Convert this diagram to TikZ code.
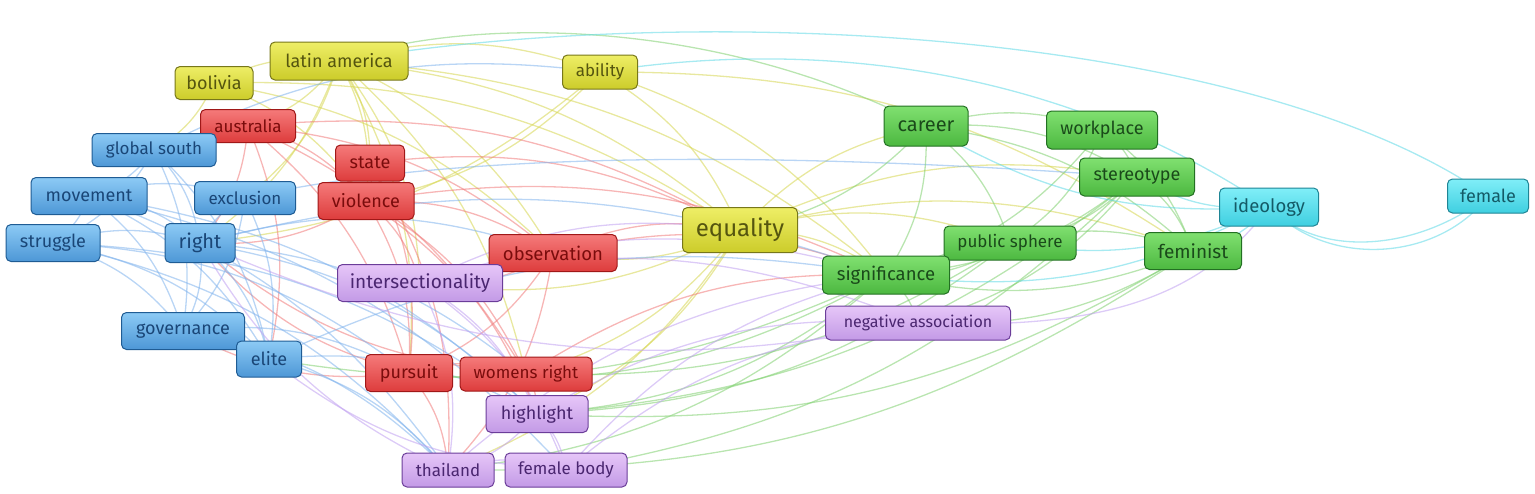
\documentclass[tikz,border=0pt]{standalone}
\usepackage{fontspec}
\setmainfont{Fira Sans}
\pgfdeclarelayer{bg}
\pgfsetlayers{bg,main}
\definecolor{bT}{HTML}{8CCAF5}\definecolor{bB}{HTML}{4D97D6}\definecolor{bD}{HTML}{1F5C94}\definecolor{bX}{HTML}{1A4677}\definecolor{bE}{HTML}{7FB2EC}
\definecolor{rT}{HTML}{F57A7A}\definecolor{rB}{HTML}{DD3C3C}\definecolor{rD}{HTML}{A01818}\definecolor{rX}{HTML}{7A0C0C}\definecolor{rE}{HTML}{F07A7A}
\definecolor{yT}{HTML}{EEEE66}\definecolor{yB}{HTML}{CCCC2A}\definecolor{yD}{HTML}{77771A}\definecolor{yX}{HTML}{55550F}\definecolor{yE}{HTML}{D6D650}
\definecolor{gT}{HTML}{80E070}\definecolor{gB}{HTML}{4CB840}\definecolor{gD}{HTML}{237023}\definecolor{gX}{HTML}{1A4A1A}\definecolor{gE}{HTML}{80D070}
\definecolor{cT}{HTML}{80EEF8}\definecolor{cB}{HTML}{3FCFE0}\definecolor{cD}{HTML}{1F8595}\definecolor{cX}{HTML}{145A66}\definecolor{cE}{HTML}{5ED8E6}
\definecolor{pT}{HTML}{E6C6F8}\definecolor{pB}{HTML}{C39AE6}\definecolor{pD}{HTML}{6B3D99}\definecolor{pX}{HTML}{4A2670}\definecolor{pE}{HTML}{C0A0F0}
\tikzset{
  kw/.style={rounded corners=5pt, line width=1pt, inner sep=0pt, font=\fontsize{#1}{#1}\selectfont},
  bn/.style={kw=#1, draw=bD, top color=bT, bottom color=bB, text=bX},
  rn/.style={kw=#1, draw=rD, top color=rT, bottom color=rB, text=rX},
  yn/.style={kw=#1, draw=yD, top color=yT, bottom color=yB, text=yX},
  gn/.style={kw=#1, draw=gD, top color=gT, bottom color=gB, text=gX},
  cn/.style={kw=#1, draw=cD, top color=cT, bottom color=cB, text=cX},
  pn/.style={kw=#1, draw=pD, top color=pT, bottom color=pB, text=pX},
  eg/.style={line width=1.3pt, draw opacity=0.55},
}
\newcommand{\kwnode}[8]{\node[#1=#2, minimum width=#3pt, minimum height=#4pt] (#5) at (#6,#7) {#8};}
\begin{document}
\begin{tikzpicture}[x=1pt,y=-1pt]
\useasboundingbox (0,0) rectangle (1535,493);
% yellow
\kwnode{yn}{18}{78}{33}{bolivia}{214}{83}{bolivia}
\kwnode{yn}{18}{138}{38}{latam}{339}{61}{latin america}
\kwnode{yn}{17}{75}{34}{ability}{600}{72}{ability}
\kwnode{yn}{24}{115}{45}{equality}{740}{230}{equality}
% red
\kwnode{rn}{17}{95}{33}{australia}{248}{126}{australia}
\kwnode{rn}{18}{69}{36}{state}{370}{163}{state}
\kwnode{rn}{18}{96}{37}{violence}{366}{201}{violence}
\kwnode{rn}{18.5}{128}{37}{observation}{553}{253}{observation}
\kwnode{rn}{18}{87}{37}{pursuit}{409}{373}{pursuit}
\kwnode{rn}{17}{132}{34}{womens}{526}{374}{womens right}
% blue
\kwnode{bn}{17}{124}{33}{gsouth}{154}{150}{global south}
\kwnode{bn}{18}{116}{37}{movement}{89}{196}{movement}
\kwnode{bn}{17}{101}{33}{exclusion}{245}{198}{exclusion}
\kwnode{bn}{18}{94}{37}{struggle}{53}{243}{struggle}
\kwnode{bn}{20}{70}{39}{right}{200}{243}{right}
\kwnode{bn}{18}{123}{37}{governance}{183}{331}{governance}
\kwnode{bn}{18}{65}{36}{elite}{269}{359}{elite}
% purple
\kwnode{pn}{19}{165}{37}{intersec}{420}{283}{intersectionality}
\kwnode{pn}{18}{102}{37}{highlight}{537}{414}{highlight}
\kwnode{pn}{17}{92}{34}{thailand}{448}{470}{thailand}
\kwnode{pn}{17}{122}{34}{fbody}{566}{470}{female body}
\kwnode{pn}{16}{185}{34}{negassoc}{918}{323}{negative association}
% green
\kwnode{gn}{20}{84}{40}{career}{926}{126}{career}
\kwnode{gn}{18}{111}{38}{workplace}{1102}{130}{workplace}
\kwnode{gn}{18}{115}{38}{stereotype}{1137}{177}{stereotype}
\kwnode{gn}{17}{132}{34}{psphere}{1010}{243}{public sphere}
\kwnode{gn}{19}{97}{37}{feminist}{1193}{251}{feminist}
\kwnode{gn}{18.5}{127}{38}{significance}{886}{275}{significance}
% cyan
\kwnode{cn}{18.5}{99}{38}{ideology}{1269}{207}{ideology}
\kwnode{cn}{18}{81}{34}{female}{1488}{196}{female}
\begin{pgfonlayer}{bg}
% yellow edges
\foreach \a/\b in {latam/equality,latam/ability,latam/violence,latam/observation,latam/significance,latam/intersec,latam/pursuit,latam/right,bolivia/latam,bolivia/gsouth,bolivia/equality,bolivia/violence,ability/equality,ability/significance,ability/feminist,ability/right,equality/thailand,equality/significance,equality/stereotype,equality/career,equality/observation,equality/intersec,equality/womens,equality/psphere,equality/feminist,latam/australia,latam/state,ability/violence,latam/exclusion,bolivia/observation,equality/highlight,latam/womens}
  \draw[eg, yE] (\a.center) to[bend left=17] (\b.center);
% red edges
\foreach \a/\b in {australia/observation,australia/equality,australia/violence,australia/pursuit,australia/elite,state/violence,state/equality,state/pursuit,violence/observation,violence/pursuit,violence/womens,violence/intersec,violence/significance,violence/highlight,observation/pursuit,observation/significance,observation/intersec,observation/thailand,pursuit/womens,pursuit/right,pursuit/governance,pursuit/thailand,womens/significance,womens/highlight,womens/right,australia/right,state/thailand,violence/right,australia/womens,observation/equality}
  \draw[eg, rE] (\a.center) to[bend left=17] (\b.center);
% blue edges
\foreach \a/\b in {gsouth/movement,gsouth/right,gsouth/struggle,gsouth/elite,movement/struggle,movement/right,movement/governance,movement/elite,movement/exclusion,movement/highlight,movement/thailand,struggle/right,struggle/governance,struggle/elite,struggle/highlight,struggle/thailand,right/exclusion,right/governance,right/elite,right/womens,right/highlight,right/observation,right/significance,exclusion/governance,exclusion/elite,governance/elite,governance/pursuit,governance/thailand,elite/highlight,elite/significance,elite/thailand,gsouth/ability,struggle/pursuit,movement/fbody,gsouth/governance}
  \draw[eg, bE] (\a.center) to[bend left=17] (\b.center);
\draw[eg, bE] (exclusion.center) .. controls (500,140) and (900,160) .. (stereotype.center);
% green edges
\foreach \a/\b in {career/workplace,career/stereotype,career/significance,career/feminist,career/psphere,career/equality,workplace/stereotype,workplace/feminist,workplace/significance,stereotype/significance,stereotype/psphere,stereotype/feminist,stereotype/negassoc,stereotype/highlight,psphere/significance,psphere/feminist,psphere/highlight,feminist/significance,feminist/negassoc,significance/highlight,significance/pursuit,significance/thailand,significance/elite,significance/negassoc,workplace/psphere,stereotype/fbody,feminist/highlight,psphere/womens,feminist/thailand}
  \draw[eg, gE] (\a.center) to[bend left=17] (\b.center);
\draw[eg, gE] (career.center) .. controls (700,10) and (450,20) .. (latam.center);
% cyan edges
\draw[eg, cE] (ideology.center) .. controls (1320,260) and (1420,250) .. (female.center);
\draw[eg, cE] (ideology.center) .. controls (1330,270) and (1440,260) .. (female.center);
\foreach \a/\b in {ideology/stereotype,ideology/significance,ideology/career,ideology/feminist,ideology/psphere}
  \draw[eg, cE] (\a.center) to[bend left=17] (\b.center);
\draw[eg, cE] (ideology.center) .. controls (1050,60) and (800,40) .. (ability.center);
\draw[eg, cE] (female.center) .. controls (1250,30) and (700,0) .. (latam.center);
% purple edges
\foreach \a/\b in {intersec/thailand,intersec/highlight,intersec/fbody,intersec/negassoc,intersec/significance,highlight/thailand,highlight/fbody,highlight/negassoc,thailand/fbody,thailand/significance,thailand/right,fbody/significance,fbody/negassoc,negassoc/right,intersec/equality,fbody/elite}
  \draw[eg, pE] (\a.center) to[bend left=17] (\b.center);
\draw[eg, pE] (negassoc.center) .. controls (1100,330) and (1200,300) .. (ideology.center);
\end{pgfonlayer}
\end{tikzpicture}
\end{document}
